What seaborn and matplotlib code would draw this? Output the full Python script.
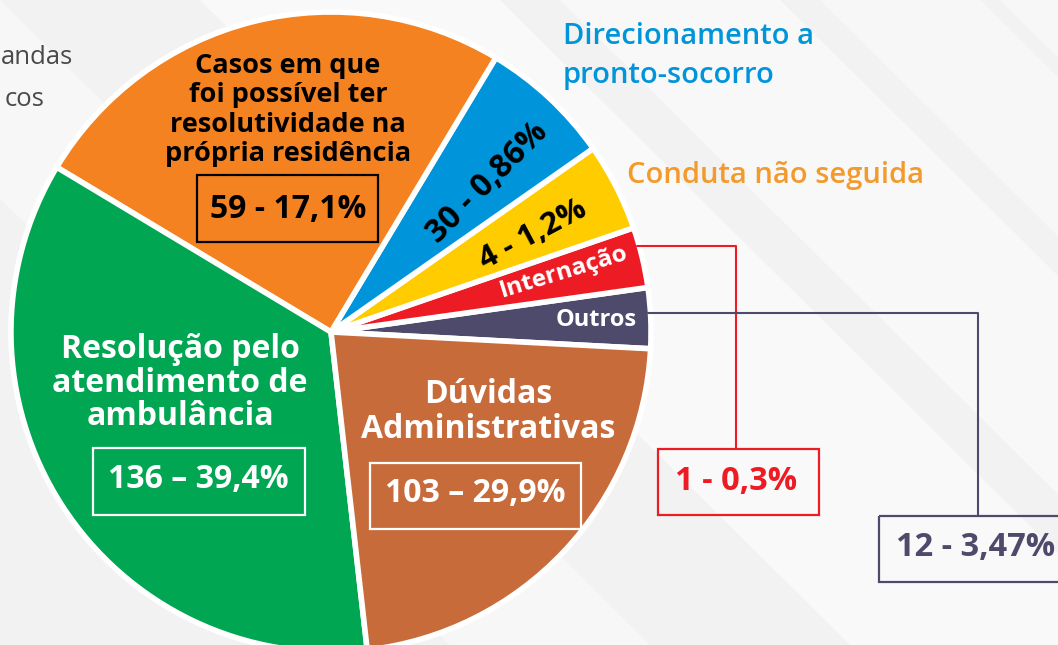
import matplotlib
matplotlib.use("Agg")
import matplotlib.pyplot as plt
from matplotlib.patches import Rectangle, Polygon
import seaborn as sns

# slices, counter-clockwise starting at the right side
categories = ["Outros", "Internação", "Conduta não seguida",
              "Direcionamento a pronto-socorro",
              "Casos em que foi possível ter resolutividade na própria residência",
              "Resolução pelo atendimento de ambulância",
              "Dúvidas Administrativas"]
counts = [12, 1, 4, 30, 59, 136, 103]
value_labels = ["12 - 3,47%", "1 - 0,3%", "4 - 1,2%", "30 - 0,86%",
                "59 - 17,1%", "136 – 39,4%", "103 – 29,9%"]
# slice sizes as drawn in the original figure (degrees)
slice_deg = [11, 11, 16, 24, 90, 127.5, 80.5]
slice_colors = ["#4E4A6B", "#ED1C24", "#FFCC00", "#0095DA",
                "#F58220", "#00A651", "#C86B3A"]
explode = [0.035, 0.035, 0.035, 0.035, 0.01, 0.05, 0.025]

sns.set_style("white")
plt.rcParams["font.family"] = ["Open Sans", "DejaVu Sans"]

W, H = 1058, 645
fig = plt.figure(figsize=(W / 100, H / 100), dpi=100)
fig.patch.set_facecolor("#f2f2f2")
ax = fig.add_axes([0, 0, 1, 1])
ax.set_facecolor("#f2f2f2")

# soft diagonal light streaks in the background
for x0, w, a in [(200, 300, 0.55), (560, 220, 0.5), (820, 160, 0.45),
                 (-200, 200, 0.4), (1000, 120, 0.4)]:
    ax.add_patch(Polygon([(x0, 0), (x0 + w, 0), (x0 + w + 650, H), (x0 + 650, H)],
                         closed=True, facecolor="white", edgecolor="none", alpha=a, zorder=0))

pal = sns.color_palette(slice_colors)
# y axis is inverted (pixel-like coords), so clockwise in data = counter-clockwise on screen
wedges, _ = ax.pie(slice_deg, colors=pal, explode=explode, startangle=3,
                   counterclock=False, center=(331, 332), radius=320,
                   wedgeprops=dict(edgecolor="white", linewidth=4))
for w in wedges:
    w.set_zorder(2)

ax.set_xlim(0, W)
ax.set_ylim(H, 0)
ax.set_aspect("equal")
ax.axis("off")

bold = dict(fontweight="bold", ha="center", va="center", zorder=5)

# orange slice
ax.text(288, 110, "Casos em que\nfoi possível ter\nresolutividade na\nprópria residência",
        fontsize=19.5, color="black", linespacing=1.17, **bold)
ax.add_patch(Rectangle((197, 175), 181, 67, fill=False, edgecolor="black", lw=1.6, zorder=5))
ax.text(288, 209, value_labels[4], fontsize=23, color="black", **bold)

# green slice
ax.text(180, 383, "Resolução pelo\natendimento de\nambulância",
        fontsize=23, color="white", linespacing=1.02, **bold)
ax.add_patch(Rectangle((93, 448), 212, 67, fill=False, edgecolor="white", lw=1.6, zorder=5))
ax.text(198, 480, value_labels[5], fontsize=23, color="white", **bold)

# brown slice
ax.text(488, 412, "Dúvidas\nAdministrativas", fontsize=23, color="white",
        linespacing=1.05, **bold)
ax.add_patch(Rectangle((370, 463), 211, 66, fill=False, edgecolor="white", lw=1.6, zorder=5))
ax.text(475, 494, value_labels[6], fontsize=23, color="white", **bold)

# thin slices
ax.text(488, 183, value_labels[3], fontsize=23, color="black", rotation=45, **bold)
ax.text(533, 235, value_labels[2], fontsize=22.5, color="black", rotation=28, **bold)
ax.text(564, 272, categories[1], fontsize=17.5, color="white", rotation=17, **bold)
ax.text(596, 320, categories[0], fontsize=17, color="white", **bold)

# outside labels
ax.text(563, 56, "Direcionamento a\npronto-socorro", fontsize=21, color="#0095DA",
        fontweight="semibold", ha="left", va="center", linespacing=1.45, zorder=5)
ax.text(627, 175, "Conduta não seguida", fontsize=21, color="#F39A2B",
        fontweight="semibold", ha="left", va="center", zorder=5)
ax.text(73, 58, "andas", fontsize=18.5, color="#4a4a4a", ha="right", va="center", zorder=5)
ax.text(44, 100, "cos", fontsize=18.5, color="#4a4a4a", ha="right", va="center", zorder=5)

# callouts
red = slice_colors[1]
ax.plot([637, 736, 736], [246, 246, 449], color=red, lw=1.5, zorder=4)
ax.add_patch(Rectangle((658, 449), 161, 66, fill=False, edgecolor=red, lw=1.6, zorder=5))
ax.text(736, 481, value_labels[1], fontsize=23.5, color=red, **bold)

gray = slice_colors[0]
ax.plot([648, 978, 978], [313, 313, 516], color=gray, lw=1.5, zorder=4)
ax.add_patch(Rectangle((879, 516), 200, 66, fill=False, edgecolor=gray, lw=1.6, zorder=5))
ax.text(976, 548, value_labels[0], fontsize=23.5, color=gray, **bold)

fig.savefig("out.png", dpi=100, facecolor=fig.get_facecolor())
